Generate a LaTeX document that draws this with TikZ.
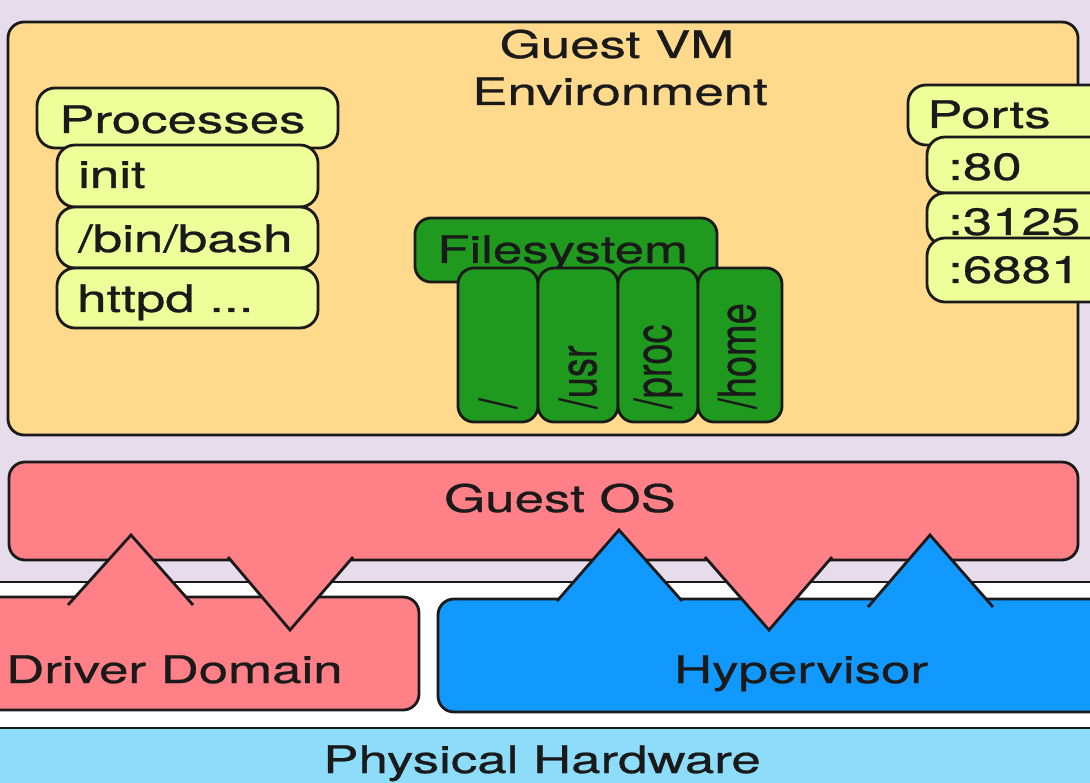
\documentclass[tikz,border=0pt]{standalone}
\usepackage{fontspec}
\setmainfont{TeX Gyre Heros}
\newfontfamily\lblfont{TeX Gyre Heros}[FakeBold=0.6]
\definecolor{lav}{HTML}{E6DCEB}
\definecolor{vmorange}{HTML}{FFD98C}
\definecolor{procyel}{HTML}{EEFF99}
\definecolor{fsgreen}{HTML}{1F9A1F}
\definecolor{ospink}{HTML}{FF8087}
\definecolor{hypblue}{HTML}{1299FF}
\definecolor{hwblue}{HTML}{8CDCFA}
\definecolor{edge}{HTML}{1A1A1A}
\newcommand{\hs}[1]{\scalebox{1.39}[1]{#1}}
\newcommand{\vs}[1]{\scalebox{1.36}[1]{\rotatebox{90}{#1}}}
\begin{document}
\begin{tikzpicture}[x=1pt,y=-1pt,
  boxline/.style={draw=edge, line width=2.8pt},
  rbox/.style={boxline, rounded corners=16pt},
  lbl/.style={inner sep=0pt, font=\lblfont\fontsize{38}{46}\selectfont, text=edge}]
\useasboundingbox (0,0) rectangle (1090,783);
\clip (0,0) rectangle (1090,783);
% background bands
\fill[white] (0,0) rectangle (1090,783);
\fill[lav] (0,0) rectangle (1090,582);
\draw[boxline] (-5,582) -- (1095,582);
\fill[hwblue] (-5,728) rectangle (1095,790);
\draw[boxline] (-5,728) -- (1095,728);
\node[lbl, anchor=base] (hwlbl) at (542,773) {\hs{Physical Hardware}};
% Guest VM environment
\draw[rbox, fill=vmorange] (8,22) rectangle (1078,435);
\node[lbl, anchor=base] (vm1) at (617,58) {\hs{Guest VM}};
\node[lbl, anchor=base] (vm2) at (620,105) {\hs{Environment}};
% Processes
\draw[rbox, rounded corners=18pt, fill=procyel] (37,88) rectangle (338,148);
\node[lbl, anchor=base west] (proc) at (59,133) {\hs{Processes}};
\draw[rbox, rounded corners=18pt, fill=procyel] (57,145) rectangle (318,207);
\node[lbl, anchor=base west] (init) at (78,188) {\hs{init}};
\draw[rbox, rounded corners=18pt, fill=procyel] (57,207) rectangle (318,268);
\node[lbl, anchor=base west] (bash) at (78,252) {\hs{/bin/bash}};
\draw[rbox, rounded corners=18pt, fill=procyel] (57,268) rectangle (318,328);
\node[lbl, anchor=base west] (httpd) at (77,312) {\hs{httpd ...}};
% Ports
\draw[rbox, rounded corners=18pt, fill=procyel] (908,85) rectangle (1120,145);
\node[lbl, anchor=base west] (ports) at (927,128) {\hs{Ports}};
\draw[rbox, rounded corners=18pt, fill=procyel] (927,137) rectangle (1120,193);
\node[lbl, anchor=base west] (p80) at (948,180) {\hs{:80}};
\draw[rbox, rounded corners=18pt, fill=procyel] (927,193) rectangle (1120,245);
\node[lbl, anchor=base west] (p3125) at (948,235) {\hs{:3125}};
\draw[rbox, rounded corners=18pt, fill=procyel] (927,238) rectangle (1120,302);
\node[lbl, anchor=base west] (p6881) at (948,283) {\hs{:6881}};
% Filesystem
\draw[rbox, fill=fsgreen] (415,218) rectangle (717,282);
\node[lbl, anchor=base west] (fs) at (437,263) {\hs{Filesystem}};
\draw[rbox, fill=fsgreen] (458,268) rectangle (538,422);
\draw[rbox, fill=fsgreen] (538,268) rectangle (618,422);
\draw[rbox, fill=fsgreen] (618,268) rectangle (698,422);
\draw[rbox, fill=fsgreen] (698,268) rectangle (782,422);
\node[lbl, anchor=south] (root) at (498,409) {\vs{/}};
\node[lbl, anchor=south] (usr) at (578,409) {\vs{/usr}};
\node[lbl, anchor=south] (procfs) at (658,409) {\vs{/proc}};
\node[lbl, anchor=south] (home) at (737,409) {\vs{/home}};
% Guest OS
\draw[rbox, fill=ospink] (9,462) rectangle (1078,560);
\node[lbl, anchor=base] (gos) at (560,512) {\hs{Guest OS}};
% Driver domain and hypervisor
\draw[rbox, fill=ospink] (-30,597) rectangle (419,710);
\node[lbl, anchor=base west] (dd) at (6,683) {\hs{Driver Domain}};
\draw[rbox, fill=hypblue] (438,599) rectangle (1130,712);
\node[lbl, anchor=base] (hyp) at (801,683) {\hs{Hypervisor}};
% spikes
\fill[ospink] (68,605) -- (131,535) -- (193,605) -- cycle;
\draw[boxline] (68,605) -- (131,535) -- (193,605);
\fill[hypblue] (557,601) -- (619,530) -- (682,601) -- cycle;
\draw[boxline] (557,601) -- (619,530) -- (682,601);
\fill[hypblue] (868,607) -- (930,535) -- (993,607) -- cycle;
\draw[boxline] (868,607) -- (930,535) -- (993,607);
\fill[ospink] (228,556) -- (290,630) -- (353,556) -- cycle;
\draw[boxline] (228,557) -- (290,630) -- (353,557);
\fill[ospink] (705,556) -- (769,630) -- (832,556) -- cycle;
\draw[boxline] (705,557) -- (769,630) -- (832,557);
\end{tikzpicture}
\end{document}
